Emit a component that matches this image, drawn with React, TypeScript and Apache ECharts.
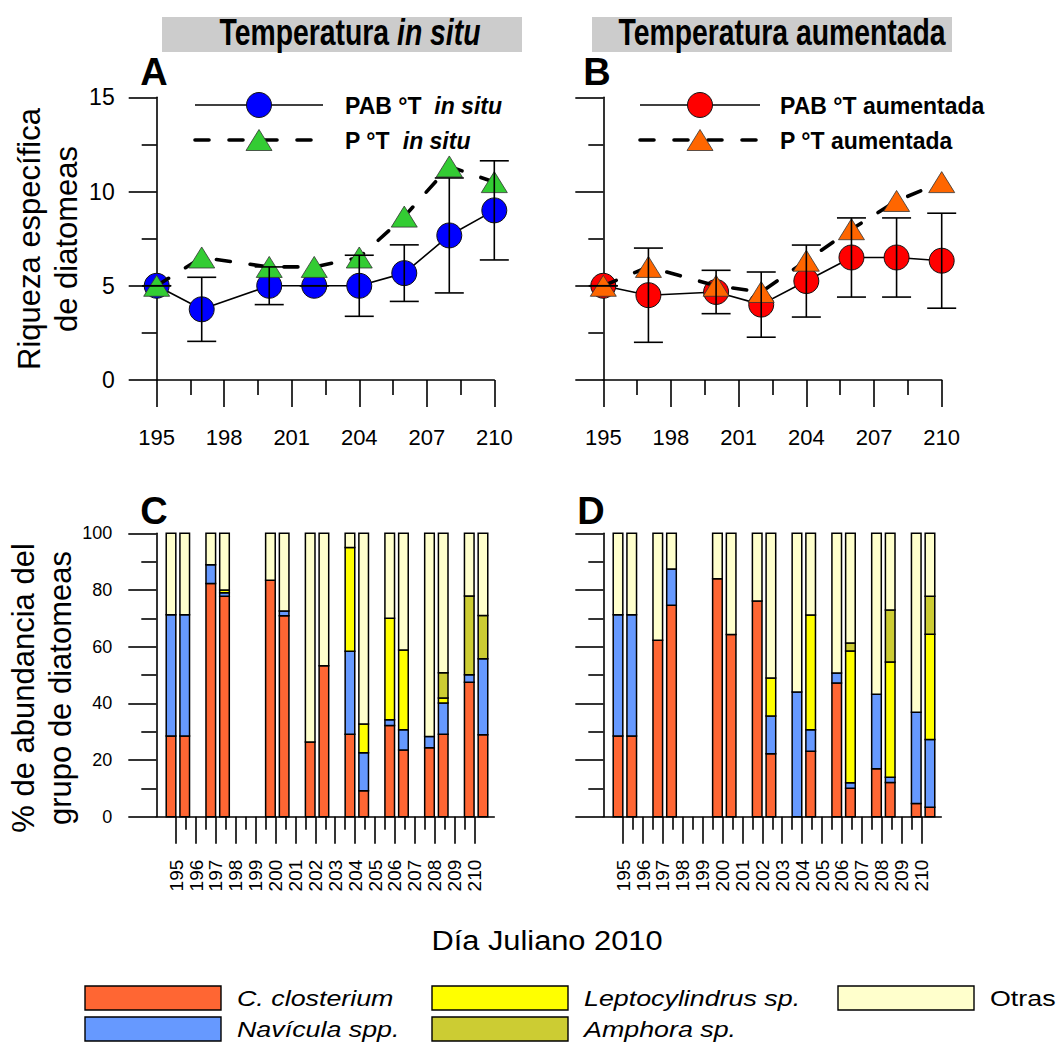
import React, { useEffect, useRef } from 'react';
import * as echarts from 'echarts';

// ---------------- Panels A / B (riqueza específica) ----------------
const lineDays = [195, 197, 200, 202, 204, 206, 208, 210];
const pabInSitu = [5, 3.75, 5, 5, 5, 5.67, 7.67, 9];
const pabInSituErr = [0, 1.7, 1, 0, 1.62, 1.5, 3.05, 2.63];
const pInSitu = [5, 6.5, 6, 6, 6.5, 8.67, 11.33, 10.5];
const pabAum = [5, 4.5, 4.67, 4, 5.25, 6.5, 6.5, 6.33];
const pabAumErr = [0, 2.5, 1.15, 1.73, 1.91, 2.1, 2.1, 2.52];
const pAum = [5, 6, 5, 4.67, 6.33, 8, 9.5, 10.5];

// ---------------- Panels C / D (% abundancia) ----------------
// each day has two bars: PAB (left) and P (right)
const barDays = [195, 197, 200, 202, 204, 206, 208, 210];
const dayTickLabels = [195, 196, 197, 198, 199, 200, 201, 202, 203, 204, 205, 206, 207, 208, 209, 210];
const species = ['C. closterium', 'Navícula spp.', 'Leptocylindrus sp.', 'Amphora sp.', 'Otras'];

// order: 195 PAB, 195 P, 197 PAB, 197 P, ... 210 PAB, 210 P
const cClosterium = [28.5, 28.5, 82.3, 77.8, 83.4, 70.9, 26.4, 53.3, 29.1, 9.2, 32.2, 23.5, 24.3, 29.1, 47.4, 28.9];
const cNavicula = [42.8, 42.8, 6.6, 1.2, 0, 1.7, 0, 0, 29.3, 13.4, 2.0, 7.2, 4.0, 11.0, 2.7, 26.8];
const cLepto = [0, 0, 0, 1.0, 0, 0, 0, 0, 36.6, 10.1, 35.8, 28.1, 0, 1.8, 0, 0];
const cAmphora = [0, 0, 0, 0, 0, 0, 0, 0, 0, 0, 0, 0, 0, 8.9, 27.8, 15.3];
const cOtras = [28.7, 28.7, 11.1, 20.0, 16.6, 27.4, 73.6, 46.7, 5.0, 67.3, 30.0, 41.2, 71.7, 49.2, 22.1, 29.0];

const dClosterium = [28.5, 28.5, 62.3, 74.6, 84.0, 64.3, 76.1, 22.2, 0, 23.1, 47.2, 10.0, 16.9, 12.1, 4.7, 3.3];
const dNavicula = [42.8, 42.8, 0, 12.8, 0, 0, 0, 13.3, 44.0, 7.6, 3.5, 2.0, 26.3, 1.8, 32.2, 23.9];
const dLepto = [0, 0, 0, 0, 0, 0, 0, 13.4, 0, 40.5, 0, 46.5, 0, 40.7, 0, 37.2];
const dAmphora = [0, 0, 0, 0, 0, 0, 0, 0, 0, 0, 0, 2.8, 0, 18.3, 0, 13.4];
const dOtras = [28.7, 28.7, 37.7, 12.6, 16.0, 35.7, 23.9, 51.1, 56.0, 28.8, 49.3, 38.7, 56.8, 27.1, 63.1, 22.2];

const speciesColors = ['#FF6633', '#6699FF', '#FFFF00', '#CCCC33', '#FFFFCC'];

// ---------------- layout / style constants ----------------
const FONT = '"Liberation Sans", Arial, Helvetica, sans-serif';
const AX = { color: '#000', width: 1.6 };
const REP_OFFSET = [-0.26, 0.43]; // bar offsets (in days) for the two replicates
const BAR_HALF = 4.8;
const CAP = 14.5;

const barX = barDays.flatMap((d) => [d + REP_OFFSET[0], d + REP_OFFSET[1]]);
const halfTicks = dayTickLabels.slice(0, -1).map((d) => d + 0.5);

function lineYAxis(grid: number, showLabels: boolean) {
  return {
    type: 'value', gridIndex: grid, min: 0, max: 15, interval: 5,
    axisLine: { show: true, onZero: false, lineStyle: AX },
    axisTick: { show: true, length: 28, lineStyle: AX },
    minorTick: { show: true, splitNumber: 2, length: 15, lineStyle: AX },
    axisLabel: { show: showLabels, margin: 42, fontSize: 23, color: '#000', fontFamily: FONT },
    splitLine: { show: false }, minorSplitLine: { show: false },
  };
}
function lineXAxis(grid: number) {
  return {
    type: 'value', gridIndex: grid, min: 195, max: 210, interval: 3,
    axisLine: { show: true, onZero: false, lineStyle: AX },
    axisTick: { show: true, length: 27, lineStyle: AX },
    minorTick: { show: true, splitNumber: 2, length: 15, lineStyle: AX },
    axisLabel: { show: true, margin: 46, fontSize: 22, color: '#000', fontFamily: FONT },
    splitLine: { show: false }, minorSplitLine: { show: false },
  };
}
function barYAxis(grid: number, showLabels: boolean) {
  return {
    type: 'value', gridIndex: grid, min: 0, max: 100, interval: 20,
    axisLine: { show: true, onZero: false, lineStyle: AX },
    axisTick: { show: true, length: 28, lineStyle: AX },
    minorTick: { show: true, splitNumber: 2, length: 15, lineStyle: AX },
    axisLabel: { show: showLabels, margin: 44, fontSize: 18, color: '#000', fontFamily: FONT },
    splitLine: { show: false }, minorSplitLine: { show: false },
  };
}
function barXAxes(grid: number) {
  return [
    {
      type: 'value', gridIndex: grid, min: 194, max: 211, position: 'bottom',
      axisLine: { show: true, onZero: false, lineStyle: AX },
      axisTick: { show: true, length: 27, lineStyle: AX, customValues: dayTickLabels },
      axisLabel: { show: true, rotate: 90, margin: 43, fontSize: 19, color: '#000', fontFamily: FONT, customValues: dayTickLabels },
      splitLine: { show: false },
    },
    {
      type: 'value', gridIndex: grid, min: 194, max: 211, position: 'bottom', offset: 0,
      axisLine: { show: false },
      axisTick: { show: true, length: 13, lineStyle: AX, customValues: halfTicks },
      axisLabel: { show: false },
      splitLine: { show: false },
    },
  ];
}

function pabSeries(xi: number, vals: number[], color: string) {
  return {
    type: 'line', xAxisIndex: xi, yAxisIndex: xi, z: 2, clip: false,
    data: lineDays.map((d, i) => [d, vals[i]]),
    symbol: 'circle', symbolSize: 25,
    lineStyle: { color: '#000', width: 1.6 },
    itemStyle: { color, borderColor: '#111', borderWidth: 1 },
  };
}
function pSeries(xi: number, vals: number[], color: string) {
  return {
    type: 'line', xAxisIndex: xi, yAxisIndex: xi, z: 3, clip: false,
    data: lineDays.map((d, i) => [d, vals[i]]),
    symbol: 'triangle', symbolSize: [26, 21],
    lineStyle: { color: '#000', width: 3.6, type: [14, 20], cap: 'round' },
    itemStyle: { color, borderColor: '#333', borderWidth: 0.8 },
  };
}
function errSeries(xi: number, mean: number[], err: number[]) {
  return {
    type: 'custom', xAxisIndex: xi, yAxisIndex: xi, z: 6, silent: true, clip: false,
    encode: { x: 0, y: [1, 2] },
    data: lineDays.map((d, i) => [d, mean[i] - err[i], mean[i] + err[i]]),
    renderItem: (_p: any, api: any) => {
      const lo = api.coord([api.value(0), api.value(1)]);
      const hi = api.coord([api.value(0), api.value(2)]);
      const s = { stroke: '#000', lineWidth: 1.6 };
      return {
        type: 'group',
        children: [
          { type: 'line', shape: { x1: lo[0], y1: lo[1], x2: hi[0], y2: hi[1] }, style: s },
          { type: 'line', shape: { x1: lo[0] - CAP, y1: lo[1], x2: lo[0] + CAP, y2: lo[1] }, style: s },
          { type: 'line', shape: { x1: hi[0] - CAP, y1: hi[1], x2: hi[0] + CAP, y2: hi[1] }, style: s },
        ],
      };
    },
  };
}
// stacked bars drawn through the axes: each item is [x, base, top]
function barSeries(xi: number, yi: number, sets: number[][]) {
  const base = barX.map(() => 0);
  return species.map((name, k) => {
    const data = barX.map((x, i) => {
      const b = base[i];
      const t = b + sets[k][i];
      base[i] = t;
      return [x, b, t];
    });
    return {
      type: 'custom', name, xAxisIndex: xi, yAxisIndex: yi, z: 2, silent: true,
      encode: { x: 0, y: [1, 2] },
      data,
      renderItem: (_p: any, api: any) => {
        if (api.value(2) - api.value(1) <= 0) return null;
        const p0 = api.coord([api.value(0), api.value(1)]);
        const p1 = api.coord([api.value(0), api.value(2)]);
        return {
          type: 'rect',
          shape: { x: p0[0] - BAR_HALF, y: p1[1], width: BAR_HALF * 2, height: p0[1] - p1[1] },
          style: { fill: speciesColors[k], stroke: '#000', lineWidth: 1.5 },
        };
      },
    };
  });
}

function txt(x: number, y: number, text: string, size: number, extra: any = {}, el: any = {}) {
  return {
    type: 'text', x, y, ...el,
    style: {
      text, fontSize: size, fontFamily: FONT, fill: '#000',
      textAlign: 'left', textVerticalAlign: 'middle', ...extra,
    },
  };
}
function legendRich(x: number, y: number, text: string) {
  return {
    type: 'text', x, y,
    style: {
      text, fill: '#000', textAlign: 'left', textVerticalAlign: 'middle',
      fontSize: 23, fontWeight: 'bold', fontFamily: FONT,
      rich: {
        n: { fontSize: 23, fontWeight: 'bold', fontFamily: FONT, fill: '#000' },
        i: { fontSize: 23, fontWeight: 'bold', fontStyle: 'italic', fontFamily: FONT, fill: '#000' },
      },
    },
  };
}
function tri(cx: number, cy: number, color: string) {
  return {
    type: 'polygon',
    shape: { points: [[cx - 13, cy + 10.5], [cx + 13, cy + 10.5], [cx, cy - 10.5]] },
    style: { fill: color, stroke: '#333', lineWidth: 0.8 },
  };
}
function lineLegend(x0: number, x1: number, cx: number, circleColor: string, triColor: string) {
  return [
    { type: 'line', shape: { x1: x0, y1: 105, x2: x1, y2: 105 }, style: { stroke: '#000', lineWidth: 1.6 } },
    { type: 'circle', shape: { cx, cy: 105, r: 12.5 }, style: { fill: circleColor, stroke: '#111', lineWidth: 1 } },
    { type: 'line', shape: { x1: x0, y1: 140, x2: x1, y2: 140 }, style: { stroke: '#000', lineWidth: 3.6, lineDash: [14, 20], lineCap: 'round' } },
    tri(cx, 140, triColor),
  ];
}

const titleRich = {
  n: { fontSize: 35, fontWeight: 'bold', fontFamily: FONT, fill: '#000' },
  i: { fontSize: 35, fontWeight: 'bold', fontStyle: 'italic', fontFamily: FONT, fill: '#000' },
};

const graphics: any[] = [
  // panel titles
  { type: 'rect', shape: { x: 162, y: 17, width: 360, height: 35 }, style: { fill: '#CCCCCC' } },
  { type: 'rect', shape: { x: 592, y: 17, width: 360, height: 35 }, style: { fill: '#CCCCCC' } },
  {
    type: 'text', x: 350, y: 32, scaleX: 0.81, scaleY: 1.05,
    style: { text: '{n|Temperatura }{i|in situ}', rich: titleRich, textAlign: 'center', textVerticalAlign: 'middle', fontSize: 35, fontWeight: 'bold', fontFamily: FONT, fill: '#000' },
  },
  {
    type: 'text', x: 782, y: 32, scaleX: 0.81, scaleY: 1.05,
    style: { text: '{n|Temperatura aumentada}', rich: titleRich, textAlign: 'center', textVerticalAlign: 'middle', fontSize: 35, fontWeight: 'bold', fontFamily: FONT, fill: '#000' },
  },
  // panel letters
  txt(154, 72, 'A', 38, { fontWeight: 'bold', textAlign: 'center' }),
  txt(597, 72, 'B', 38, { fontWeight: 'bold', textAlign: 'center' }),
  txt(154, 511, 'C', 38, { fontWeight: 'bold', textAlign: 'center' }),
  txt(591, 511, 'D', 38, { fontWeight: 'bold', textAlign: 'center' }),
  // in-panel legends
  ...lineLegend(195, 323, 259, '#0000FF', '#33CC33'),
  legendRich(345, 106, '{n|PAB °T  }{i|in situ}'),
  legendRich(345, 141, '{n|P °T  }{i|in situ}'),
  ...lineLegend(640, 760, 700, '#FF0000', '#FF6600'),
  legendRich(780, 106, '{n|PAB °T aumentada}'),
  legendRich(780, 141, '{n|P °T aumentada}'),
  // axis titles
  txt(48, 239, 'Riqueza específica\nde diatomeas', 31, { textAlign: 'center', lineHeight: 37 }, { rotation: Math.PI / 2 }),
  txt(42, 688, '% de abundancia del\ngrupo de diatomeas', 31, { textAlign: 'center', lineHeight: 37 }, { rotation: Math.PI / 2 }),
  txt(547, 940, 'Día Juliano 2010', 28, { textAlign: 'center' }, { scaleX: 1.1 }),
];

// bottom legend
const legendBoxes = [
  { x: 85, y: 986 }, { x: 85, y: 1017 }, { x: 432, y: 986 }, { x: 432, y: 1017 }, { x: 838, y: 986 },
];
species.forEach((name, k) => {
  const b = legendBoxes[k];
  graphics.push({
    type: 'rect', shape: { x: b.x, y: b.y, width: 136, height: 24 },
    style: { fill: speciesColors[k], stroke: '#000', lineWidth: 1.4 },
  });
  graphics.push(txt(b.x + 152, b.y + 12.5, name, 22,
    { fontStyle: k === 4 ? 'normal' : 'italic' }, { scaleX: 1.22 }));
});

const option: any = {
  animation: false,
  backgroundColor: '#fff',
  grid: [
    { left: 156.7, top: 97.3, width: 337.6, height: 282.7 },
    { left: 603.3, top: 97.3, width: 338.4, height: 282.7 },
    { left: 156.3, top: 533.3, width: 338, height: 283.4 },
    { left: 603.3, top: 533.3, width: 338, height: 283.4 },
  ],
  xAxis: [lineXAxis(0), lineXAxis(1), ...barXAxes(2), ...barXAxes(3)],
  yAxis: [lineYAxis(0, true), lineYAxis(1, false), barYAxis(2, true), barYAxis(3, false)],
  series: [
    pabSeries(0, pabInSitu, '#0000FF'),
    pSeries(0, pInSitu, '#33CC33'),
    errSeries(0, pabInSitu, pabInSituErr),
    pabSeries(1, pabAum, '#FF0000'),
    pSeries(1, pAum, '#FF6600'),
    errSeries(1, pabAum, pabAumErr),
    ...barSeries(2, 2, [cClosterium, cNavicula, cLepto, cAmphora, cOtras]),
    ...barSeries(4, 3, [dClosterium, dNavicula, dLepto, dAmphora, dOtras]),
  ],
  graphic: graphics,
};

export default function App() {
  const ref = useRef<HTMLDivElement>(null);
  useEffect(() => {
    if (!ref.current) return;
    const chart = echarts.init(ref.current, null, { renderer: 'svg' });
    chart.setOption(option);
    return () => chart.dispose();
  }, []);
  return (
    <div
      ref={ref}
      style={{ position: 'absolute', left: 0, top: 0, width: 1058, height: 1045, background: '#fff' }}
    />
  );
}
